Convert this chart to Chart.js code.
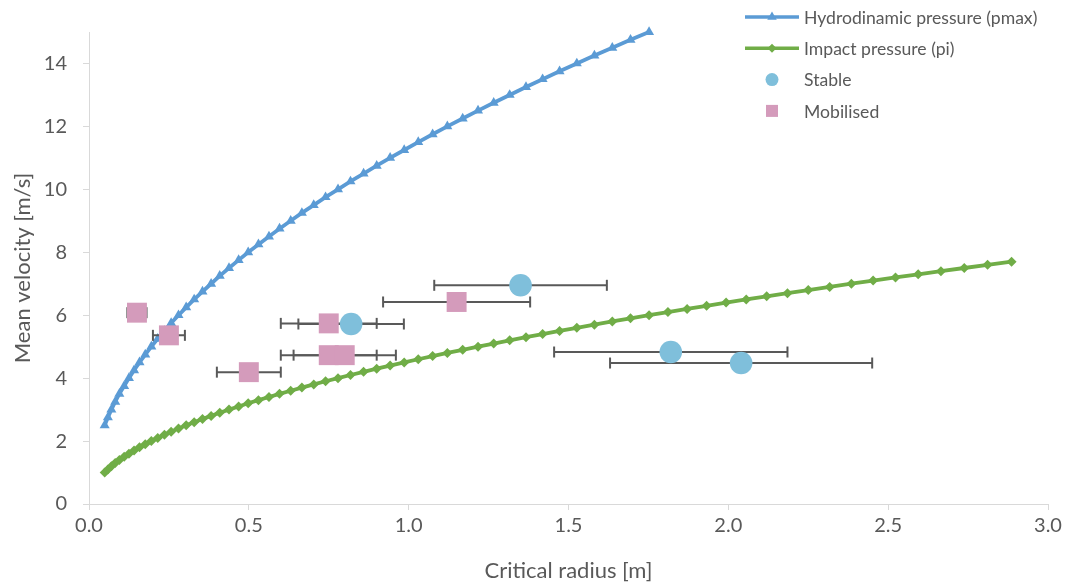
<!DOCTYPE html>
<html>
<head>
<meta charset="utf-8">
<script src="https://cdn.jsdelivr.net/npm/chart.js@4.4.1/dist/chart.umd.min.js"></script>
<style>
    html, body { margin: 0; padding: 0; background: #fff; }
    #wrap { width: 1066px; height: 586px; }
</style>
</head>
<body>
<div id="wrap"><canvas id="velocityChart" width="1066" height="586"></canvas></div>
<script>
// critical radius [m] shared by both curves (blue stops at index 50)
const radius = [
    0.049, 0.059, 0.070, 0.082, 0.095, 0.110, 0.125, 0.141, 0.158, 0.176,
    0.195, 0.215, 0.236, 0.257, 0.280, 0.304, 0.329, 0.355, 0.382, 0.409,
    0.438, 0.468, 0.498, 0.530, 0.563, 0.596, 0.631, 0.666, 0.703, 0.740,
    0.779, 0.818, 0.859, 0.900, 0.942, 0.986, 1.030, 1.075, 1.121, 1.169,
    1.217, 1.266, 1.316, 1.367, 1.419, 1.472, 1.526, 1.581, 1.637, 1.694,
    1.752, 1.811, 1.871, 1.932, 1.993, 2.056, 2.120, 2.185, 2.250, 2.317,
    2.385, 2.453, 2.523, 2.594, 2.665, 2.738, 2.811, 2.886
];

// mean velocity [m/s]
const pMax = [
    2.50, 2.75, 3.00, 3.25, 3.50, 3.75, 4.00, 4.25, 4.50, 4.75,
    5.00, 5.25, 5.50, 5.75, 6.00, 6.25, 6.50, 6.75, 7.00, 7.25,
    7.50, 7.75, 8.00, 8.25, 8.50, 8.75, 9.00, 9.25, 9.50, 9.75,
    10.00, 10.25, 10.50, 10.75, 11.00, 11.25, 11.50, 11.75, 12.00, 12.25,
    12.50, 12.75, 13.00, 13.25, 13.50, 13.75, 14.00, 14.25, 14.50, 14.75,
    15.00
];

const pImpact = [
    1.0, 1.1, 1.2, 1.3, 1.4, 1.5, 1.6, 1.7, 1.8, 1.9,
    2.0, 2.1, 2.2, 2.3, 2.4, 2.5, 2.6, 2.7, 2.8, 2.9,
    3.0, 3.1, 3.2, 3.3, 3.4, 3.5, 3.6, 3.7, 3.8, 3.9,
    4.0, 4.1, 4.2, 4.3, 4.4, 4.5, 4.6, 4.7, 4.8, 4.9,
    5.0, 5.1, 5.2, 5.3, 5.4, 5.5, 5.6, 5.7, 5.8, 5.9,
    6.0, 6.1, 6.2, 6.3, 6.4, 6.5, 6.6, 6.7, 6.8, 6.9,
    7.0, 7.1, 7.2, 7.3, 7.4, 7.5, 7.6, 7.7
];

// observed blocks
const stableR = [1.35, 0.82, 1.82, 2.04];
const stableV = [6.95, 5.72, 4.83, 4.48];
const stableErr = [0.27, 0.165, 0.365, 0.41];

const mobilR = [0.15, 0.25, 0.50, 0.75, 0.75, 0.80, 1.15];
const mobilV = [6.08, 5.36, 4.19, 5.74, 4.73, 4.73, 6.42];
const mobilErr = [0.03, 0.05, 0.10, 0.15, 0.15, 0.16, 0.23];

const legendLabels = ['Hydrodinamic pressure (pmax)', 'Impact pressure (pi)', 'Stable', 'Mobilised'];

const xTicks = [0, 0.5, 1.0, 1.5, 2.0, 2.5, 3.0];
const yTicks = [0, 2, 4, 6, 8, 10, 12, 14];

const fontFamily = 'Lato, "Open Sans", sans-serif';
const textColor = '#595959';
const axisColor = '#d9d9d9';
const blue = '#5b9bd5';
const green = '#70ad47';
const stableColor = '#7fbfdb';
const mobilColor = '#d49bbb';
const errColor = '#595959';

const ctx = document.getElementById('velocityChart').getContext('2d');

function errorBar(r, v, e) {
    return {
        label: '_err',
        data: [{ x: r - e, y: v }, { x: r + e, y: v }],
        showLine: true,
        borderColor: errColor,
        borderWidth: 2,
        pointStyle: 'line',
        rotation: 90,
        pointRadius: 5.5,
        pointBorderColor: errColor,
        pointBorderWidth: 2,
    };
}

const errorSets = [];
stableR.forEach((r, i) => errorSets.push(errorBar(r, stableV[i], stableErr[i])));
mobilR.forEach((r, i) => errorSets.push(errorBar(r, mobilV[i], mobilErr[i])));

const legendPlugin = {
    id: 'cornerLegend',
    afterDraw(chart) {
        const c = chart.ctx;
        const drawPoint = Chart.helpers.drawPoint;
        const styles = [
            { line: blue, pointStyle: 'triangle', radius: 5.5, color: blue },
            { line: green, pointStyle: 'rectRot', radius: 4.5, color: green },
            { line: null, pointStyle: 'circle', radius: 6.5, color: stableColor },
            { line: null, pointStyle: 'rect', radius: 8.5, color: mobilColor },
        ];
        c.save();
        legendLabels.forEach((label, i) => {
            const y = 17 + i * 31.3;
            const s = styles[i];
            if (s.line) {
                c.strokeStyle = s.line;
                c.lineWidth = 3.5;
                c.beginPath();
                c.moveTo(745, y);
                c.lineTo(799, y);
                c.stroke();
            }
            c.fillStyle = s.color;
            c.strokeStyle = s.color;
            drawPoint(c, { pointStyle: s.pointStyle, radius: s.radius, rotation: 0, borderWidth: 0 }, 772, y);
            c.fillStyle = textColor;
            c.font = '17.6px ' + fontFamily;
            c.textBaseline = 'middle';
            c.textAlign = 'left';
            c.fillText(label, 804, y + 1);
        });
        c.restore();
    }
};

const chart = new Chart(ctx, {
    type: 'scatter',
    data: {
        datasets: [
            {
                label: legendLabels[2],
                data: stableR.map((r, i) => ({ x: r, y: stableV[i] })),
                pointStyle: 'circle',
                pointRadius: 11.3,
                backgroundColor: stableColor,
                borderColor: stableColor,
                borderWidth: 0,
            },
            {
                label: legendLabels[3],
                data: mobilR.map((r, i) => ({ x: r, y: mobilV[i] })),
                pointStyle: 'rect',
                pointRadius: 14.1,
                backgroundColor: mobilColor,
                borderColor: mobilColor,
                borderWidth: 0,
            },
            ...errorSets,
            {
                label: legendLabels[0],
                data: pMax.map((v, i) => ({ x: radius[i], y: v })),
                showLine: true,
                clip: false,
                borderColor: blue,
                borderWidth: 3.8,
                pointStyle: 'triangle',
                pointRadius: 5.8,
                pointBackgroundColor: blue,
                pointBorderWidth: 0,
            },
            {
                label: legendLabels[1],
                data: pImpact.map((v, i) => ({ x: radius[i], y: v })),
                showLine: true,
                clip: false,
                borderColor: green,
                borderWidth: 3.8,
                pointStyle: 'rectRot',
                pointRadius: 5,
                pointBackgroundColor: green,
                pointBorderWidth: 0,
            }
        ]
    },
    options: {
        responsive: false,
        animation: false,
        layout: {
            padding: { top: 32, right: 18, left: 0, bottom: 0 }
        },
        plugins: {
            legend: { display: false },
            tooltip: { enabled: false }
        },
        scales: {
            x: {
                type: 'linear',
                min: 0,
                max: 3,
                afterBuildTicks: (axis) => { axis.ticks = xTicks.map(v => ({ value: v })); },
                afterFit: (axis) => { axis.height = 82; },
                ticks: {
                    autoSkip: false,
                    maxRotation: 0,
                    padding: 4,
                    color: textColor,
                    font: { family: fontFamily, size: 20 },
                    callback: (v) => Number(v).toFixed(1)
                },
                grid: {
                    drawOnChartArea: false,
                    drawTicks: true,
                    tickLength: 6,
                    tickWidth: 1,
                    tickColor: axisColor,
                    color: axisColor
                },
                border: { display: true, color: axisColor, width: 1 },
                title: {
                    display: true,
                    text: 'Critical radius [m]',
                    color: textColor,
                    font: { family: fontFamily, size: 22 },
                    padding: { top: 0, bottom: 2 }
                }
            },
            y: {
                type: 'linear',
                min: 0,
                max: 15,
                afterBuildTicks: (axis) => { axis.ticks = yTicks.map(v => ({ value: v })); },
                afterFit: (axis) => { axis.width = 89; },
                ticks: {
                    padding: 16,
                    color: textColor,
                    font: { family: fontFamily, size: 20 }
                },
                grid: {
                    drawOnChartArea: false,
                    drawTicks: true,
                    tickLength: 6,
                    tickWidth: 1,
                    tickColor: axisColor,
                    color: axisColor
                },
                border: { display: true, color: axisColor, width: 1 },
                title: {
                    display: true,
                    text: 'Mean velocity [m/s]',
                    color: textColor,
                    font: { family: fontFamily, size: 22 },
                    padding: { top: 10, bottom: 0 }
                }
            }
        }
    },
    plugins: [legendPlugin]
});
</script>
</body>
</html>
